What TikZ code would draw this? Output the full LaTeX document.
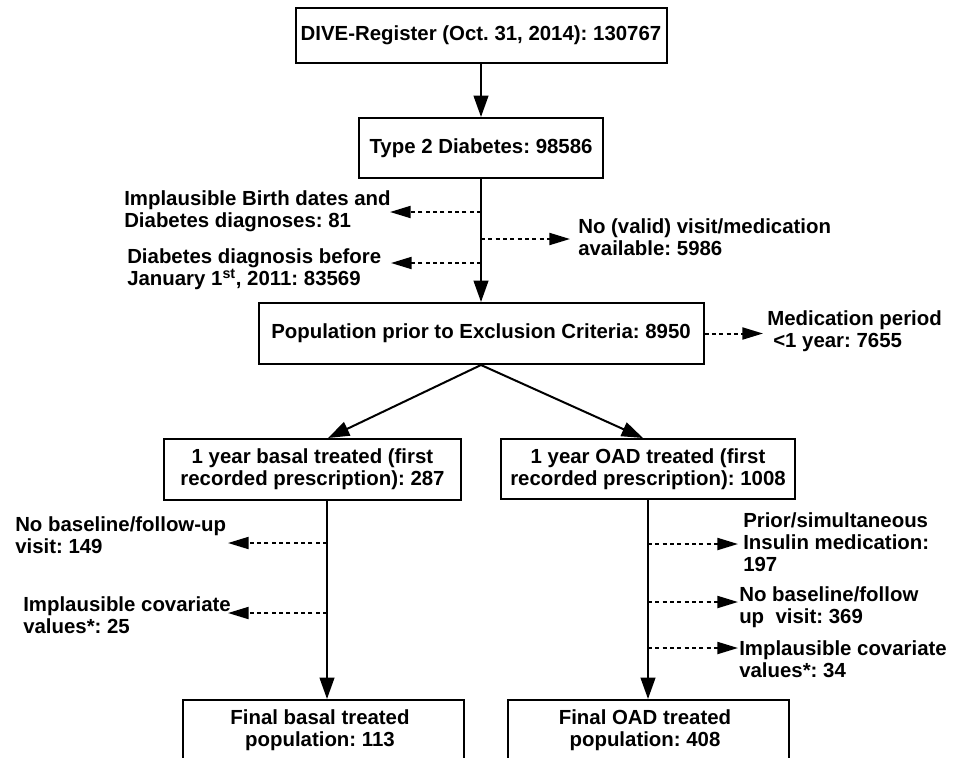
\documentclass[tikz,border=0pt]{standalone}
\usepackage{fontspec}
\setmainfont{Liberation Sans}
\usetikzlibrary{arrows.meta}
\begin{document}
\frenchspacing
\begin{tikzpicture}[x=0.75pt,y=-0.75pt,
  every node/.style={font=\fontsize{15.3pt}{16.5pt}\selectfont\bfseries\frenchspacing},
  box/.style={draw, line width=1.5pt, inner sep=0pt, align=center},
  lbl/.style={inner sep=0pt, align=left, anchor=north west},
  ctext/.style={inner sep=0pt, align=center, anchor=north},
  main/.style={line width=1.5pt, -{Triangle[length=16pt,width=11pt]}},
  excl/.style={line width=1.5pt, dash pattern=on 3pt off 2.5pt, -{Triangle[length=15.5pt,width=9pt]}}
]
\useasboundingbox (0,0) rectangle (959,757);
\clip (0,0) rectangle (959,757);
\fill[white] (0,0) rectangle (959,757);

% main boxes
\node[box, minimum width=278.25pt, minimum height=41.25pt] (b1) at (481,35) {DIVE-Register (Oct. 31, 2014): 130767};
\node[box, minimum width=183pt, minimum height=45pt] (b2) at (481,148) {Type 2 Diabetes: 98586};
\node[box, minimum width=333.75pt, minimum height=45.75pt] (b3) at (481,333.5) {Population prior to Exclusion Criteria: 8950};
\node[box, minimum width=222.75pt, minimum height=45.75pt] (b4) at (312.5,469.5) {1 year basal treated (first\\recorded prescription): 287};
\node[box, minimum width=220.5pt, minimum height=45pt] (b5) at (648,469) {1 year OAD treated (first\\recorded prescription): 1008};
\node[box, minimum width=210.75pt, minimum height=60pt, anchor=north] (f1) at (323.5,699) {};
\node[ctext] (f1t) at (320,709.5) {Final basal treated\\population: 113};
\node[box, minimum width=210.75pt, minimum height=60pt, anchor=north] (f2) at (648.5,699) {};
\node[ctext] (f2t) at (645,709.5) {Final OAD treated\\population: 408};

% exclusion labels
\node[lbl] (l1) at (124,190.4) {Implausible Birth dates and\\Diabetes diagnoses: 81};
\node[lbl] (l2) at (127,248.4) {Diabetes diagnosis before\\January 1\textsuperscript{st}, 2011: 83569};
\node[lbl] (r1) at (578,218.4) {No (valid) visit/medication\\available: 5986};
\node[lbl] (r2) at (767,310.4) {Medication period\\\hspace*{4.5pt}<1 year: 7655};
\node[lbl] (l3) at (15,516) {No baseline/follow-up\\visit: 149};
\node[lbl] (l4) at (23,596) {Implausible covariate\\values*: 25};
\node[lbl] (r3) at (743,512) {Prior/simultaneous\\Insulin medication:\\197};
\node[lbl] (r4) at (739,586.5) {No baseline/follow\\up\ \ visit: 369};
\node[lbl] (r5) at (739,640.5) {Implausible covariate\\values*: 34};

% helper coordinates
\coordinate (m1) at (481,212);
\coordinate (m2) at (481,239);
\coordinate (m3) at (481,263);
\coordinate (t1) at (390,212);
\coordinate (t2) at (570,239);
\coordinate (t3) at (391,263);
\coordinate (t4) at (763,333.5);
\coordinate (x4) at (328,0);
\coordinate (x5) at (643,0);
\coordinate (v4) at (327,0);
\coordinate (v5) at (648,0);
\coordinate (s1) at (327,543);
\coordinate (s2) at (327,613);
\coordinate (u1) at (228,543);
\coordinate (u2) at (228,613);
\coordinate (p1) at (648,544);
\coordinate (p2) at (648,602);
\coordinate (p3) at (648,648);
\coordinate (q1) at (738,544);
\coordinate (q2) at (738,602);
\coordinate (q3) at (738,648);

% main connectors
\draw[main] (b1) -- (b2);
\draw[main] (b2) -- (b3);
\draw[main] (b3.south) -- (b4.north -| x4);
\draw[main] (b3.south) -- (b5.north -| x5);
\draw[main] (b4.south -| v4) -- (f1.north -| v4);
\draw[main] (b5.south -| v5) -- (f2.north -| v5);

% exclusion connectors
\draw[excl] (m1) -- (t1);
\draw[excl] (m2) -- (t2);
\draw[excl] (m3) -- (t3);
\draw[excl] (b3.east) -- (t4);
\draw[excl] (s1) -- (u1);
\draw[excl] (s2) -- (u2);
\draw[excl] (p1) -- (q1);
\draw[excl] (p2) -- (q2);
\draw[excl] (p3) -- (q3);
\end{tikzpicture}
\end{document}
